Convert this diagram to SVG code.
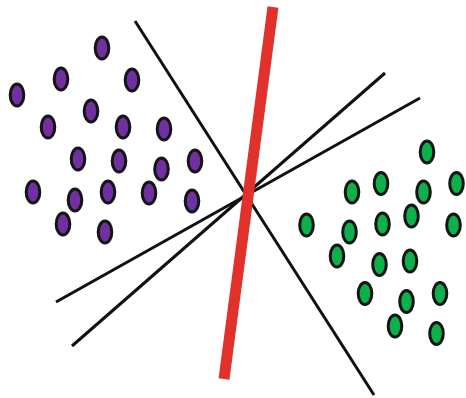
<svg xmlns="http://www.w3.org/2000/svg" width="466" height="398" viewBox="0 0 466 398">
<style>
.l{stroke:#111;stroke-width:3;fill:none}
.p{fill:#7030a0;stroke:#151515;stroke-width:3}
.g{fill:#0db04b;stroke:#151515;stroke-width:3}
</style>
<rect width="466" height="398" fill="#fff"/>
<g id="lines">
<line class="l" x1="135" y1="21" x2="374" y2="395"/>
<line class="l" x1="72" y1="346" x2="385" y2="73"/>
<line class="l" x1="56" y1="302" x2="420" y2="98"/>
<line x1="273" y1="7" x2="224" y2="379" stroke="#e0322a" stroke-width="11"/>
</g>
<g id="purple">
<ellipse class="p" cx="102" cy="48" rx="6.8" ry="11"/>
<ellipse class="p" cx="61" cy="79" rx="6.8" ry="11"/>
<ellipse class="p" cx="132" cy="80" rx="6.8" ry="11"/>
<ellipse class="p" cx="17" cy="95" rx="6.8" ry="11"/>
<ellipse class="p" cx="91" cy="111" rx="6.8" ry="11"/>
<ellipse class="p" cx="48" cy="127" rx="6.8" ry="11"/>
<ellipse class="p" cx="123" cy="127" rx="6.8" ry="11"/>
<ellipse class="p" cx="164" cy="129" rx="6.8" ry="11"/>
<ellipse class="p" cx="78" cy="159" rx="6.8" ry="11"/>
<ellipse class="p" cx="119" cy="161" rx="6.8" ry="11"/>
<ellipse class="p" cx="161.5" cy="169" rx="6.8" ry="11"/>
<ellipse class="p" cx="195" cy="161" rx="6.8" ry="11"/>
<ellipse class="p" cx="33" cy="192" rx="6.8" ry="11"/>
<ellipse class="p" cx="75" cy="200" rx="6.8" ry="11"/>
<ellipse class="p" cx="108" cy="192" rx="6.8" ry="11"/>
<ellipse class="p" cx="149" cy="193" rx="6.8" ry="11"/>
<ellipse class="p" cx="192" cy="201" rx="6.8" ry="11"/>
<ellipse class="p" cx="63" cy="224" rx="6.8" ry="11"/>
<ellipse class="p" cx="105" cy="232" rx="6.8" ry="11"/>
</g>
<g id="green">
<ellipse class="g" cx="427" cy="152" rx="6.8" ry="11"/>
<ellipse class="g" cx="352" cy="192" rx="6.8" ry="11"/>
<ellipse class="g" cx="381" cy="183.5" rx="6.8" ry="11"/>
<ellipse class="g" cx="423.5" cy="192" rx="6.8" ry="11"/>
<ellipse class="g" cx="456.5" cy="183.5" rx="6.8" ry="11"/>
<ellipse class="g" cx="306.5" cy="225" rx="6.8" ry="11"/>
<ellipse class="g" cx="349.5" cy="232" rx="6.8" ry="11"/>
<ellipse class="g" cx="382.5" cy="224" rx="6.8" ry="11"/>
<ellipse class="g" cx="411.5" cy="216" rx="6.8" ry="11"/>
<ellipse class="g" cx="453.5" cy="225" rx="6.8" ry="11"/>
<ellipse class="g" cx="337" cy="256" rx="6.8" ry="11"/>
<ellipse class="g" cx="379.5" cy="264.5" rx="6.8" ry="11"/>
<ellipse class="g" cx="410" cy="261" rx="6.8" ry="11"/>
<ellipse class="g" cx="365" cy="293.5" rx="6.8" ry="11"/>
<ellipse class="g" cx="406.5" cy="301.5" rx="6.8" ry="11"/>
<ellipse class="g" cx="440" cy="293.5" rx="6.8" ry="11"/>
<ellipse class="g" cx="395" cy="326" rx="6.8" ry="11"/>
<ellipse class="g" cx="436.5" cy="333.5" rx="6.8" ry="11"/>
</g>
</svg>
